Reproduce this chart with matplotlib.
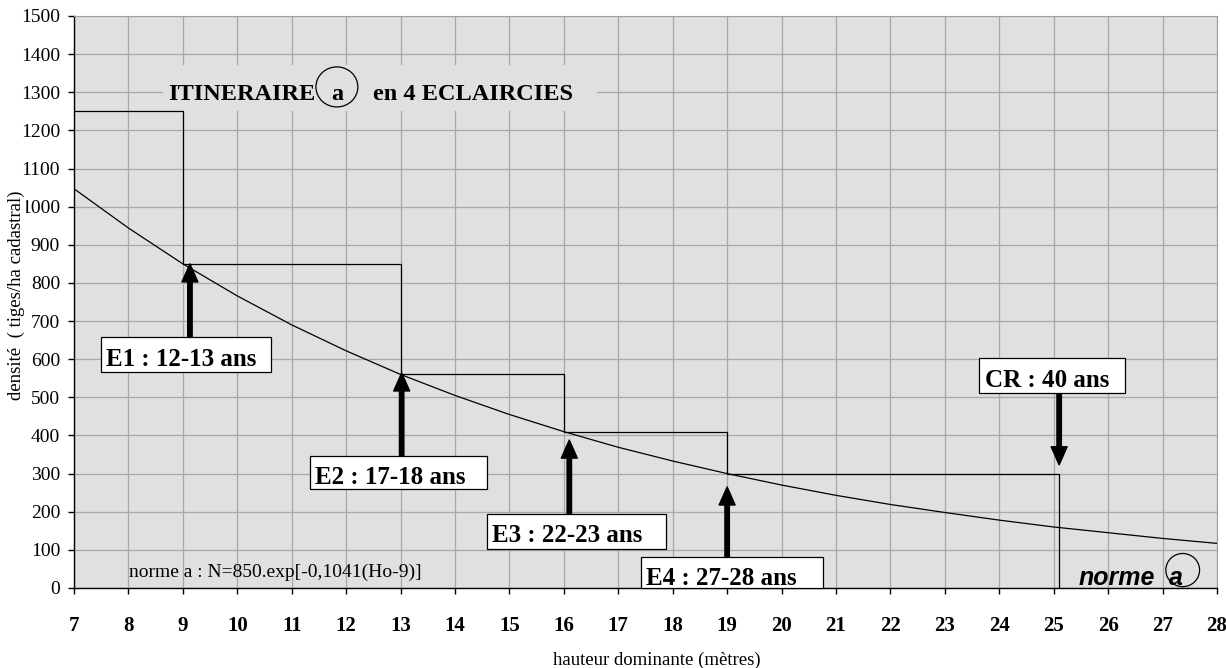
import matplotlib
matplotlib.use('Agg')
import matplotlib.pyplot as plt
from matplotlib.patches import Rectangle, Ellipse

# itinéraire a : hauteur dominante / densité après chaque éclaircie
step_h = [7, 9, 13, 16, 19, 25.1]
step_n = [1250, 850, 560, 410, 300, 0]

# norme a
norme_h = [7, 8, 9, 10, 11, 12, 13, 14, 15, 16, 17, 18, 19, 20, 21, 22, 23, 24, 25, 26, 27, 28]
norme_n = [1047, 944, 850, 766, 690, 622, 560, 505, 455, 410, 369, 333, 300, 270, 243, 219, 198, 178, 160, 145, 130, 117]

# flèches : x, départ, arrivée
arrow_x = [9.13, 13.02, 16.1, 19.0, 25.1]
arrow_from = [658, 346, 194, 81, 511]
arrow_to = [850, 564, 388, 265, 323]

labels = ['E1 : 12-13 ans', 'E2 : 17-18 ans', 'E3 : 22-23 ans', 'E4 : 27-28 ans', 'CR : 40 ans']
# boites des étiquettes (x0, x1, y0, y1) et position du texte
label_box = [(7.50, 10.62, 566, 658), (11.34, 14.59, 260, 346), (14.59, 17.88, 102, 194),
             (17.42, 20.76, 0, 81), (23.63, 26.31, 511, 603)]
label_txt = [(7.59, 582), (11.43, 273), (14.68, 121), (17.51, 8), (23.74, 527)]

serif = 'Liberation Serif'

fig = plt.figure(figsize=(12.26, 6.68), dpi=100)
ax = fig.add_axes([74/1226, 80/668, 1143/1226, 572/668])
ax.set_facecolor('#e0e0e0')

ax.set_xlim(7, 28)
ax.set_ylim(0, 1500)
ax.set_xticks(range(7, 29))
ax.set_yticks(range(0, 1501, 100))
ax.grid(True, color='#a8a8a8', linewidth=0.9, zorder=0)
ax.set_axisbelow(True)

for s in ['top', 'right']:
    ax.spines[s].set_color('#a0a0a0')
for s in ['left', 'bottom']:
    ax.spines[s].set_color('black')
    ax.spines[s].set_linewidth(1.0)

ax.tick_params(axis='y', direction='out', length=4, width=1, pad=6, labelsize=14)
ax.tick_params(axis='x', direction='out', length=4, width=1, pad=16, labelsize=15)
for t in ax.get_yticklabels():
    t.set_fontfamily(serif)
for t in ax.get_xticklabels():
    t.set_fontfamily(serif)
    t.set_fontweight('bold')

# fond du titre (masque la grille)
ax.add_patch(Rectangle((8.64, 1250), 16.61 - 8.64, 1372 - 1250, facecolor='#e0e0e0',
                       edgecolor='none', zorder=1))

ax.plot(norme_h, norme_n, color='black', linewidth=0.9, zorder=3)
ax.step(step_h, step_n, where='post', color='black', linewidth=0.9, zorder=3)

for x, y0, y1 in zip(arrow_x, arrow_from, arrow_to):
    ax.annotate('', xy=(x, y1), xytext=(x, y0),
                arrowprops=dict(width=3.2, headwidth=11.5, headlength=13, facecolor='black',
                                edgecolor='black', shrink=0), zorder=5)

for lab, (x0, x1, y0, y1), (tx, ty) in zip(labels, label_box, label_txt):
    ax.add_patch(Rectangle((x0, y0), x1 - x0, y1 - y0, facecolor='white', edgecolor='black',
                           linewidth=0.9, zorder=6, clip_on=False))
    ax.text(tx, ty, lab, fontsize=18, fontweight='bold', fontfamily=serif,
            ha='left', va='baseline', zorder=7)

# titre
ax.text(8.73, 1280, 'ITINERAIRE', fontsize=17.5, fontweight='bold', fontfamily=serif,
        ha='left', va='baseline', zorder=4)
ax.text(11.83, 1280, 'a', fontsize=17.5, fontweight='bold', fontfamily=serif,
        ha='center', va='baseline', zorder=4)
ax.add_patch(Ellipse((11.83, 1314), 0.77, 105, facecolor='none', edgecolor='black',
                     linewidth=0.9, zorder=4))
ax.text(12.49, 1280, 'en 4 ECLAIRCIES', fontsize=17.5, fontweight='bold', fontfamily=serif,
        ha='left', va='baseline', zorder=4)

ax.text(8.01, 30, 'norme a : N=850.exp[-0,1041(Ho-9)]', fontsize=14, fontfamily=serif,
        ha='left', va='baseline', zorder=4)

ax.text(25.46, 8, 'norme', fontsize=18, fontweight='bold', fontstyle='italic',
        fontfamily='Liberation Sans', ha='left', va='baseline', zorder=4)
ax.text(27.25, 8, 'a', fontsize=18, fontweight='bold', fontstyle='italic',
        fontfamily='Liberation Sans', ha='center', va='baseline', zorder=4)
ax.add_patch(Ellipse((27.37, 47), 0.62, 87, facecolor='none', edgecolor='black',
                     linewidth=0.9, zorder=4))

fig.text(657/1226, 1 - 660/668, 'hauteur dominante (mètres)', fontsize=13.5,
         fontfamily=serif, ha='center', va='center')
fig.text(16/1226, 1 - 295/668, 'densité  ( tiges/ha cadastral)', fontsize=13.5,
         fontfamily=serif, rotation=90, ha='center', va='center',
         bbox=dict(facecolor='white', edgecolor='none', pad=1))

fig.savefig('out.png', dpi=100)
